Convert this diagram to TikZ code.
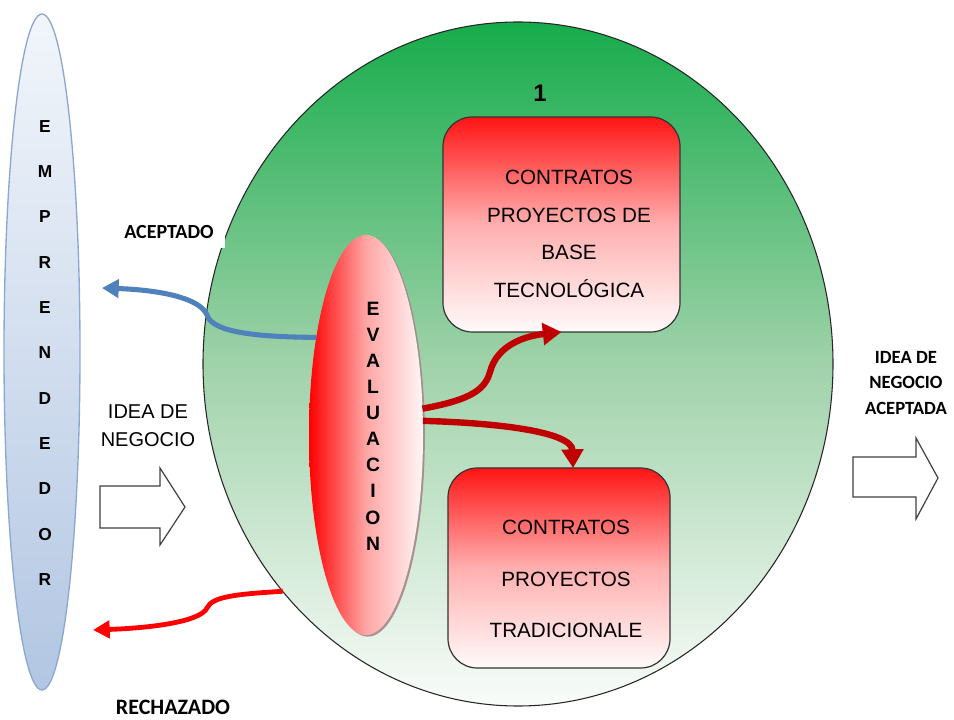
\documentclass[tikz,border=0pt]{standalone}
\usepackage{fontspec}
\setmainfont{Liberation Sans}
\newfontfamily\carl{Carlito}
\usetikzlibrary{shapes.geometric,arrows.meta,shadows}

\definecolor{circtop}{RGB}{22,172,75}
\definecolor{circmid}{RGB}{160,210,170}
\definecolor{circbot}{RGB}{250,252,250}
\definecolor{emptop}{RGB}{242,246,251}
\definecolor{empbot}{RGB}{178,198,226}
\definecolor{empline}{RGB}{140,168,210}
\definecolor{boxred}{RGB}{255,20,20}
\definecolor{boxmid}{RGB}{255,175,175}
\definecolor{boxwhite}{RGB}{255,250,250}
\definecolor{evalmid}{RGB}{255,165,165}
\definecolor{evalright}{RGB}{255,246,246}
\definecolor{evalshadow}{RGB}{165,135,135}
\definecolor{aceblue}{RGB}{79,129,189}
\definecolor{darkred}{RGB}{192,0,0}

\tikzset{
  emprendedor/.style={ellipse, inner sep=0pt, outer sep=0pt,
    minimum width=57pt, minimum height=507pt,
    top color=emptop, bottom color=empbot, draw=empline, line width=1pt},
  bigcircle/.style={ellipse, inner sep=0pt, outer sep=0pt,
    minimum width=472.5pt, minimum height=513pt,
    top color=circtop, bottom color=circbot, middle color=circmid,
    draw=black!85, line width=0.8pt},
  evalnode/.style={ellipse, inner sep=0pt, outer sep=0pt,
    minimum width=85.5pt, minimum height=300pt,
    left color=red, right color=evalright, middle color=evalmid,
    drop shadow={shadow xshift=1.4pt, shadow yshift=-1.2pt,
      fill=evalshadow, opacity=0.9}},
  projbox/.style={rectangle, rounded corners=22pt, inner sep=0pt, outer sep=0pt,
    top color=boxred, bottom color=boxwhite, middle color=boxmid,
    draw=black!80, line width=0.9pt},
  blockarrow/.style={draw=black!75, fill=white, line width=0.9pt, line join=miter},
  acarrow/.style={draw=aceblue, line width=3.8pt,
    -{Triangle[length=12.5pt,width=13.5pt]}},
  rejarrow/.style={draw=red, line width=3.6pt,
    -{Triangle[length=12.5pt,width=13pt]}},
  innerarrow/.style={draw=darkred, line width=4.8pt,
    -{Triangle[length=14pt,width=16pt]}},
  boxtext/.style={align=center, inner sep=0pt},
}

\begin{document}
\begin{tikzpicture}[x=0.75pt,y=-0.75pt]
\useasboundingbox (0,0) rectangle (954,720);

% entrepreneur column
\node[emprendedor] (emp) at (42,352) {};
\node[boxtext, font=\fontsize{13}{34}\selectfont\bfseries] (emptext) at (45,353)
  {E\\M\\P\\R\\E\\N\\D\\E\\D\\O\\R};

% main evaluation stage
\node[bigcircle] (circ) at (518,364) {};
\node[font=\fontsize{18}{20}\selectfont\bfseries] (num) at (540,93) {1};

\node[evalnode] (eval) at (366,435) {};
\node[boxtext, font=\fontsize{14.5}{19.6}\selectfont\bfseries] (evaltext) at (373,426)
  {E\\V\\A\\L\\U\\A\\C\\I\\O\\N};

\node[projbox, minimum width=177.75pt, minimum height=161.25pt] (box1) at (561.5,224.5) {};
\node[boxtext, font=\fontsize{15.5}{28.3}\selectfont] (box1text) at (569,234)
  {CONTRATOS\\PROYECTOS DE\\BASE\\TECNOLÓGICA};

\node[projbox, minimum width=166.5pt, minimum height=150pt] (box2) at (559,568) {};
\node[boxtext, font=\fontsize{15.5}{38.6}\selectfont] (box2text) at (566,579)
  {CONTRATOS\\PROYECTOS\\TRADICIONALE};

% outcome arrows
\coordinate (acTip) at (102,288);
\coordinate (rejTip) at (93,630);

\draw[acarrow] (eval.117) .. controls (255,337) and (212,332) .. (207,315)
  .. controls (200,298) and (160,290) .. (acTip);
\draw[rejarrow] (circ.224) .. controls (240,594) and (212,596) .. (207,608)
  .. controls (200,622) and (150,628) .. (rejTip);
\draw[innerarrow] (eval.25) .. controls (470,400) and (485,390) .. (490,372)
  .. controls (497,345) and (525,336) .. (box1.south);
\draw[innerarrow] (eval.14) .. controls (500,423) and (572,432) .. (box2.82);

% labels
\node[font=\carl\fontsize{15}{18}\selectfont\bfseries, fill=white,
  minimum width=84pt, minimum height=24pt, inner sep=0pt] (acept) at (169,232) {ACEPTADO};
\node[boxtext, font=\fontsize{15}{21}\selectfont] (idea) at (148,426) {IDEA DE\\NEGOCIO};
\node[boxtext, font=\carl\fontsize{14}{19}\selectfont\bfseries] (ideaacc) at (906,383)
  {IDEA DE\\NEGOCIO\\ACEPTADA};
\node[font=\carl\fontsize{16.5}{20}\selectfont\bfseries] (rech) at (173,707) {RECHAZADO};

% block arrows
\draw[blockarrow] (100,486) -- (160,486) -- (160,468) -- (185,507) -- (160,545)
  -- (160,528) -- (100,528) -- cycle;
\draw[blockarrow] (853,457) -- (916,457) -- (916,438) -- (938,478) -- (916,519)
  -- (916,497) -- (853,497) -- cycle;
\end{tikzpicture}
\end{document}
